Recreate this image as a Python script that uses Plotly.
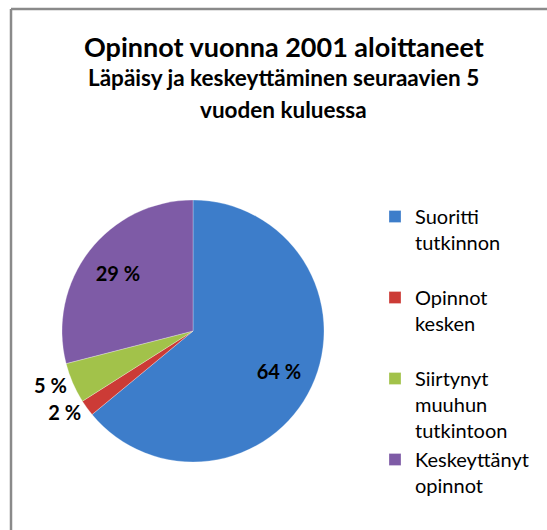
import plotly.graph_objects as go

categories = ["Suoritti<br>tutkinnon<br> ", "Opinnot<br>kesken<br> ", "Siirtynyt<br>muuhun<br>tutkintoon", "Keskeyttänyt<br>opinnot"]
values = [64, 2, 5, 29]
colors = ["#3D7DCA", "#CC3B36", "#A2C24A", "#7E5BA6"]
outside_labels = ["", "%{value} %", "%{value} %", ""]
inside_labels = ["%{value} %", "", "", "%{value} %"]

title_lines = ["Opinnot vuonna 2001 aloittaneet",
               "Läpäisy ja keskeyttäminen seuraavien 5",
               "vuoden kuluessa"]

W, H = 547, 530
cx, cy, r = 193, 331, 131
dom = dict(x=[(cx - r) / W, (cx + r) / W], y=[(H - cy - r) / H, (H - cy + r) / H])
label_font = dict(family="Lato", size=20, color="black", weight="bold")

fig = go.Figure()
fig.add_trace(go.Pie(
    labels=categories,
    values=values,
    sort=False,
    direction="clockwise",
    rotation=0,
    marker=dict(colors=colors, line=dict(color="rgba(255,255,255,0.35)", width=0.8)),
    textposition=["none", "outside", "outside", "none"],
    texttemplate=outside_labels,
    textfont=label_font,
    domain=dom,
    hoverinfo="label+percent",
))
# transparent ring used only to place the inside labels further out, like the original
fig.add_trace(go.Pie(
    labels=categories,
    values=values,
    sort=False,
    direction="clockwise",
    rotation=0,
    hole=0.45,
    marker=dict(colors=["rgba(0,0,0,0)"] * len(values), line=dict(width=0)),
    textposition="inside",
    texttemplate=inside_labels,
    insidetextorientation="horizontal",
    textfont=label_font,
    domain=dom,
    showlegend=False,
    hoverinfo="skip",
))

title_specs = [(title_lines[0], 27, 47), (title_lines[1], 22.5, 78), (title_lines[2], 22.5, 109)]
for txt, size, ypix in title_specs:
    fig.add_annotation(text=txt, x=284 / W, y=1 - ypix / H, xref="paper", yref="paper",
                       xanchor="center", yanchor="middle", showarrow=False,
                       font=dict(family="Lato", size=size, color="black", weight="bold"))

fig.add_shape(type="line", x0=11 / W, x1=1.02, y0=1 - 9 / H, y1=1 - 9 / H, xref="paper", yref="paper",
              line=dict(color="#8A8A8A", width=2.5))
fig.add_shape(type="line", x0=11 / W, x1=11 / W, y0=1 - 9 / H, y1=-0.02, xref="paper", yref="paper",
              line=dict(color="#8A8A8A", width=2.5))

fig.update_layout(
    width=W, height=H,
    margin=dict(l=0, r=0, t=0, b=0),
    paper_bgcolor="white",
    plot_bgcolor="white",
    showlegend=True,
    legend=dict(x=375 / W, y=1 - 197 / H, xanchor="left", yanchor="top",
                font=dict(family="Lato", size=20, color="black"),
                valign="top", itemwidth=30, tracegroupgap=0,
                bgcolor="rgba(0,0,0,0)"),
)

fig.write_html("out.html", config={"displayModeBar": False},
               post_script="document.body.style.margin='0';document.body.style.overflow='hidden';")
